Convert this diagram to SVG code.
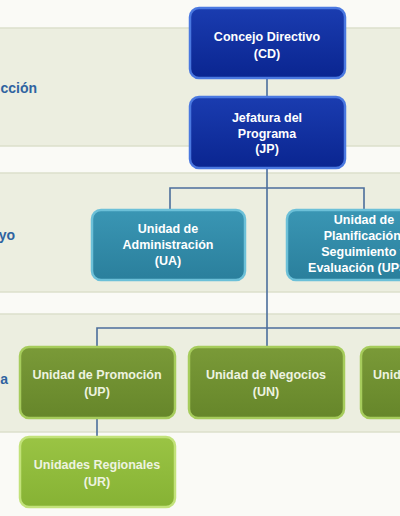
<svg xmlns="http://www.w3.org/2000/svg" width="400" height="516" viewBox="0 0 400 516">
<defs>
<linearGradient id="gBlue" x1="0" y1="0" x2="0" y2="1"><stop offset="0" stop-color="#1a3cb0"/><stop offset="1" stop-color="#0a2590"/></linearGradient>
<linearGradient id="gTeal" x1="0" y1="0" x2="0" y2="1"><stop offset="0" stop-color="#3a96b4"/><stop offset="1" stop-color="#2a7f9c"/></linearGradient>
<linearGradient id="gGreen" x1="0" y1="0" x2="0" y2="1"><stop offset="0" stop-color="#7a9a38"/><stop offset="1" stop-color="#66862a"/></linearGradient>
<linearGradient id="gLight" x1="0" y1="0" x2="0" y2="1"><stop offset="0" stop-color="#9ac444"/><stop offset="1" stop-color="#86b234"/></linearGradient>
</defs>
<style>
.band{fill:#eceee0;stroke:#dcdfcb;stroke-width:1.5}
.lbl{font-family:"Liberation Sans",Arial,sans-serif;font-weight:bold;font-size:14px;fill:#2f63a0}
.t{font-family:"Liberation Sans",Arial,sans-serif;font-weight:bold;font-size:12.5px;fill:#ffffff;text-anchor:middle}
.t2{font-family:"Liberation Sans",Arial,sans-serif;font-weight:bold;font-size:12.5px;fill:#eef3e0;text-anchor:middle}
.blue{fill:url(#gBlue);stroke:#4a78e0;stroke-width:2.5}
.teal{fill:url(#gTeal);stroke:#6cc0d8;stroke-width:2.5}
.green{fill:url(#gGreen);stroke:#a6cc5c;stroke-width:2.5}
.light{fill:url(#gLight);stroke:#c2e27a;stroke-width:2.5}
.c{fill:none;stroke:#4c6e9c;stroke-width:1.6}
</style>
<rect x="0" y="0" width="400" height="516" fill="#fafaf6"/>
<rect class="band" x="-5" y="28" width="410" height="118"/>
<rect class="band" x="-5" y="173" width="410" height="119"/>
<rect class="band" x="-5" y="314" width="410" height="118"/>
<text class="lbl" x="37" y="93" text-anchor="end">cción</text>
<text class="lbl" x="15" y="240" text-anchor="end">yo</text>
<text class="lbl" x="8" y="384" text-anchor="end">a</text>
<g id="connectors">
<line class="c" x1="267" y1="78" x2="267" y2="97"/>
<line class="c" x1="267" y1="168" x2="267" y2="347"/>
<polyline class="c" points="170,210 170,188 364,188 364,210"/>
<polyline class="c" points="97,347 97,328 410,328"/>
<line class="c" x1="97" y1="418" x2="97" y2="437"/>
</g>
<g id="cd"><rect class="blue" x="190" y="8" width="155" height="70" rx="9"/>
<text class="t" x="267" y="41">Concejo Directivo</text><text class="t" x="267" y="58">(CD)</text></g>
<g id="jp"><rect class="blue" x="190" y="97" width="155" height="71" rx="9"/>
<text class="t" x="267" y="122">Jefatura del</text><text class="t" x="267" y="138">Programa</text><text class="t" x="267" y="153">(JP)</text></g>
<g id="ua"><rect class="teal" x="92" y="210" width="153" height="70" rx="9"/>
<text class="t" x="168" y="233">Unidad de</text><text class="t" x="168" y="249">Administración</text><text class="t" x="168" y="265">(UA)</text></g>
<g id="upse"><rect class="teal" x="287" y="210" width="155" height="70" rx="9"/>
<text class="t" x="364" y="224">Unidad de</text><text class="t" x="364" y="240">Planificación,</text><text class="t" x="364" y="256">Seguimiento y</text><text class="t" x="364" y="272">Evaluación (UPSE)</text></g>
<g id="up"><rect class="green" x="20" y="347" width="155" height="71" rx="9"/>
<text class="t2" x="97" y="379">Unidad de Promoción</text><text class="t2" x="97" y="396">(UP)</text></g>
<g id="un"><rect class="green" x="189" y="347" width="155" height="71" rx="9"/>
<text class="t2" x="266" y="379">Unidad de Negocios</text><text class="t2" x="266" y="396">(UN)</text></g>
<g id="u3"><rect class="green" x="361" y="347" width="155" height="71" rx="9"/>
<text class="t2" x="373" y="379" text-anchor="start" style="text-anchor:start">Unid</text></g>
<g id="ur"><rect class="light" x="20" y="437" width="155" height="70" rx="9"/>
<text class="t2" x="97" y="469">Unidades Regionales</text><text class="t2" x="97" y="486">(UR)</text></g>
</svg>
